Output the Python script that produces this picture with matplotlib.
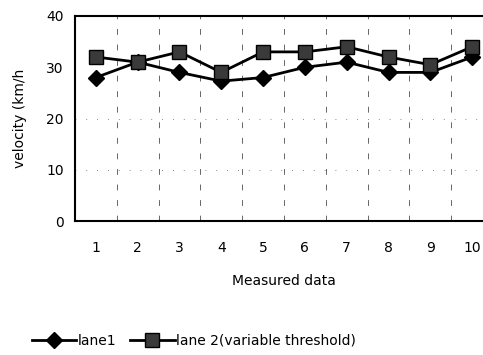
import numpy as np
import matplotlib.pyplot as plt

samples = [1, 2, 3, 4, 5, 6, 7, 8, 9, 10]
lane1 = [28, 31, 29, 27.3, 28, 30, 31, 29, 29, 32]
lane2 = [32, 31, 33, 29, 33, 33, 34, 32, 30.5, 34]
yticks = [0, 10, 20, 30, 40]

fig = plt.figure(figsize=(4.83, 3.55), dpi=100)
ax = fig.add_axes([0.155, 0.377, 0.866, 0.578])

# broken-looking grid between categories
for xb in np.arange(1.5, 10.5, 1):
    ax.axvline(xb, color="#666666", lw=0.7, ls=(0, (6, 10)), zorder=0)
for yv in [10, 20]:
    ax.axhline(yv, color="#666666", lw=0.6, ls=(0, (1, 12)), zorder=0)

ax.plot(samples, lane1, color="black", lw=2, marker="D", ms=8,
        mfc="black", mec="black", label="lane1", clip_on=False)
ax.plot(samples, lane2, color="black", lw=2, marker="s", ms=10,
        mfc="#3a3a3a", mec="black", label="lane 2(variable threshold)", clip_on=False)

ax.set_xlim(0.5, 10.5)
ax.set_ylim(0, 40)
ax.set_xticks(samples)
ax.set_yticks(yticks)
ax.tick_params(length=0, labelsize=10, pad=8)
ax.tick_params(axis="x", pad=14)
for s in ax.spines.values():
    s.set_linewidth(1.5)
ax.spines["right"].set_visible(False)
ax.set_xlabel("Measured data", fontsize=10, labelpad=14)
ax.set_ylabel("velocity (km/h", fontsize=10, labelpad=14)

fig.legend(loc="lower left", bbox_to_anchor=(0.04, -0.015), ncol=2, frameon=False,
           fontsize=10, handlelength=3.2, columnspacing=1.0, handletextpad=0.1)

fig.savefig("out.png", dpi=100)
